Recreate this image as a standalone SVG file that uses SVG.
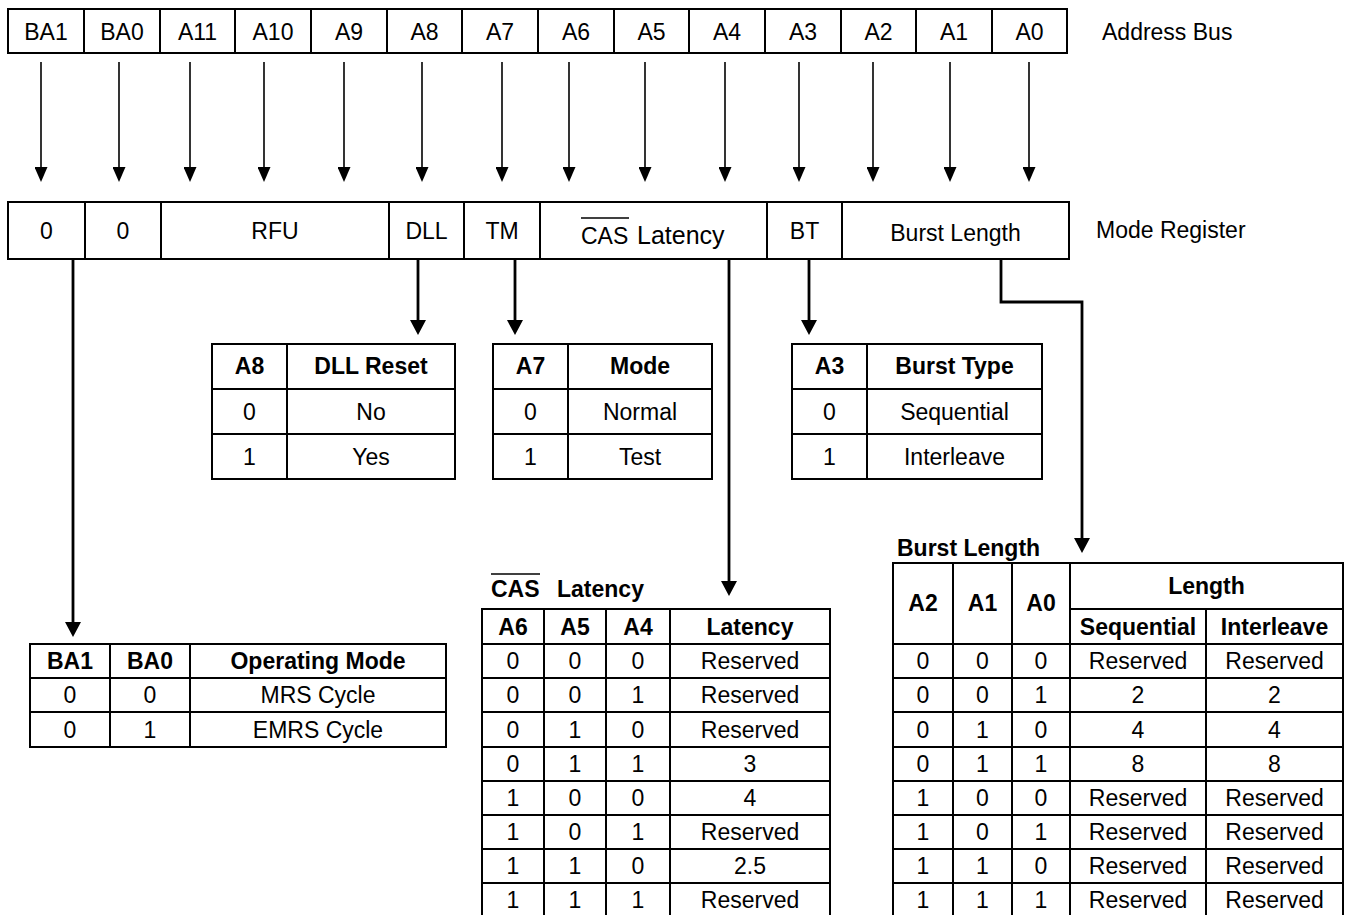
<svg xmlns="http://www.w3.org/2000/svg" width="1345" height="915" viewBox="0 0 1345 915">
<defs>
<marker id="ah" viewBox="0 0 15 13" refX="0" refY="6.5" markerWidth="15" markerHeight="13" markerUnits="userSpaceOnUse" orient="auto"><path d="M0,0 L15,6.5 L0,13 z" fill="#000"/></marker>
<marker id="ahb" viewBox="0 0 15 16" refX="0" refY="8" markerWidth="15" markerHeight="16" markerUnits="userSpaceOnUse" orient="auto"><path d="M0,0 L15,8 L0,16 z" fill="#000"/></marker>
</defs>
<style>
text{font-family:"Liberation Sans",Arial,sans-serif;font-size:23px;fill:#000;text-anchor:middle}
.b{font-weight:bold}
.l{text-anchor:start}
.box{fill:#fff;stroke:#000;stroke-width:2}
.g{stroke:#000;stroke-width:2;fill:none}
.thin{stroke:#000;stroke-width:1.6;fill:none;marker-end:url(#ah)}
.thick{stroke:#000;stroke-width:2.8;fill:none;marker-end:url(#ahb)}
.ov{stroke:#000;stroke-width:1.5}
</style>
<rect width="1345" height="915" fill="#fff"/>

<g id="address-bus">
<rect class="box" x="8" y="9" width="1059" height="44"/>
<path class="g" d="M84,9V53M160,9V53M235,9V53M311,9V53M387,9V53M462,9V53M538,9V53M614,9V53M689,9V53M765,9V53M841,9V53M916,9V53M992,9V53"/>
<text x="46" y="40">BA1</text><text x="122" y="40">BA0</text><text x="197.5" y="40">A11</text><text x="273" y="40">A10</text><text x="349" y="40">A9</text><text x="424.5" y="40">A8</text><text x="500" y="40">A7</text><text x="576" y="40">A6</text><text x="651.5" y="40">A5</text><text x="727" y="40">A4</text><text x="803" y="40">A3</text><text x="878.5" y="40">A2</text><text x="954" y="40">A1</text><text x="1029.5" y="40">A0</text>
<text class="l" x="1102" y="40">Address Bus</text>
</g>

<g id="mode-register">
<rect class="box" x="8" y="202" width="1061" height="57"/>
<path class="g" d="M85,202V259M161,202V259M389,202V259M464,202V259M540,202V259M767,202V259M842,202V259"/>
<text x="46.5" y="239">0</text><text x="123" y="239">0</text><text x="275" y="239">RFU</text><text x="426.5" y="239">DLL</text><text x="502" y="239">TM</text>
<text class="l" x="581" y="244">CAS</text><line class="ov" x1="581" y1="218" x2="629" y2="218"/><text class="l" x="637" y="244" style="font-size:25px">Latency</text>
<text x="804.5" y="239">BT</text><text x="955.5" y="241">Burst Length</text>
<text class="l" x="1096" y="238">Mode Register</text>
</g>

<g id="connectors">
<line class="thin" x1="41" y1="62" x2="41" y2="167"/>
<line class="thin" x1="119" y1="62" x2="119" y2="167"/>
<line class="thin" x1="190" y1="62" x2="190" y2="167"/>
<line class="thin" x1="264" y1="62" x2="264" y2="167"/>
<line class="thin" x1="344" y1="62" x2="344" y2="167"/>
<line class="thin" x1="422" y1="62" x2="422" y2="167"/>
<line class="thin" x1="502" y1="62" x2="502" y2="167"/>
<line class="thin" x1="569" y1="62" x2="569" y2="167"/>
<line class="thin" x1="645" y1="62" x2="645" y2="167"/>
<line class="thin" x1="725" y1="62" x2="725" y2="167"/>
<line class="thin" x1="799" y1="62" x2="799" y2="167"/>
<line class="thin" x1="873" y1="62" x2="873" y2="167"/>
<line class="thin" x1="950" y1="62" x2="950" y2="167"/>
<line class="thin" x1="1029" y1="62" x2="1029" y2="167"/>
<line class="thick" x1="73" y1="259" x2="73" y2="622"/>
<line class="thick" x1="418" y1="259" x2="418" y2="320"/>
<line class="thick" x1="515" y1="259" x2="515" y2="320"/>
<line class="thick" x1="729" y1="259" x2="729" y2="581"/>
<line class="thick" x1="809" y1="259" x2="809" y2="320"/>
<path class="thick" d="M1001,259V302H1082V538"/>
</g>

<g id="dll-table">
<rect class="box" x="212" y="344" width="243" height="135"/>
<path class="g" d="M287,344V479M212,389H455M212,434H455"/>
<text class="b" x="249.5" y="374">A8</text><text class="b" x="371" y="374">DLL Reset</text>
<text x="249.5" y="420">0</text><text x="371" y="420">No</text>
<text x="249.5" y="465">1</text><text x="371" y="465">Yes</text>
</g>

<g id="tm-table">
<rect class="box" x="493" y="344" width="219" height="135"/>
<path class="g" d="M568,344V479M493,389H712M493,434H712"/>
<text class="b" x="530.5" y="374">A7</text><text class="b" x="640" y="374">Mode</text>
<text x="530.5" y="420">0</text><text x="640" y="420">Normal</text>
<text x="530.5" y="465">1</text><text x="640" y="465">Test</text>
</g>

<g id="bt-table">
<rect class="box" x="792" y="344" width="250" height="135"/>
<path class="g" d="M867,344V479M792,389H1042M792,434H1042"/>
<text class="b" x="829.5" y="374">A3</text><text class="b" x="954.5" y="374">Burst Type</text>
<text x="829.5" y="420">0</text><text x="954.5" y="420">Sequential</text>
<text x="829.5" y="465">1</text><text x="954.5" y="465">Interleave</text>
</g>

<g id="opmode-table">
<rect class="box" x="30" y="644" width="416" height="103"/>
<path class="g" d="M110,644V747M190,644V747M30,678H446M30,712H446"/>
<text class="b" x="70" y="669">BA1</text><text class="b" x="150" y="669">BA0</text><text class="b" x="318" y="669">Operating Mode</text>
<text x="70" y="703">0</text><text x="150" y="703">0</text><text x="318" y="703">MRS Cycle</text>
<text x="70" y="738">0</text><text x="150" y="738">1</text><text x="318" y="738">EMRS Cycle</text>
</g>

<g id="cas-table">
<text class="b l" x="491" y="597">CAS</text><line class="ov" x1="491" y1="574" x2="540" y2="574"/><text class="b l" x="557" y="597">Latency</text>
<rect class="box" x="482" y="609" width="348" height="320"/>
<path class="g" d="M544,609V929M606,609V929M670,609V929M482,644H830M482,678H830M482,712H830M482,747H830M482,781H830M482,815H830M482,849H830M482,883H830"/>
<text class="b" x="513" y="635">A6</text><text class="b" x="575" y="635">A5</text><text class="b" x="638" y="635">A4</text><text class="b" x="750" y="635">Latency</text>
<text x="513" y="669">0</text><text x="575" y="669">0</text><text x="638" y="669">0</text><text x="750" y="669">Reserved</text>
<text x="513" y="703">0</text><text x="575" y="703">0</text><text x="638" y="703">1</text><text x="750" y="703">Reserved</text>
<text x="513" y="738">0</text><text x="575" y="738">1</text><text x="638" y="738">0</text><text x="750" y="738">Reserved</text>
<text x="513" y="772">0</text><text x="575" y="772">1</text><text x="638" y="772">1</text><text x="750" y="772">3</text>
<text x="513" y="806">1</text><text x="575" y="806">0</text><text x="638" y="806">0</text><text x="750" y="806">4</text>
<text x="513" y="840">1</text><text x="575" y="840">0</text><text x="638" y="840">1</text><text x="750" y="840">Reserved</text>
<text x="513" y="874">1</text><text x="575" y="874">1</text><text x="638" y="874">0</text><text x="750" y="874">2.5</text>
<text x="513" y="908">1</text><text x="575" y="908">1</text><text x="638" y="908">1</text><text x="750" y="908">Reserved</text>
</g>

<g id="burst-table">
<text class="b l" x="897" y="556">Burst Length</text>
<rect class="box" x="893" y="563" width="450" height="366"/>
<path class="g" d="M953,563V929M1012,563V929M1070,563V929M1206,609V929M1070,609H1343M893,644H1343M893,678H1343M893,712H1343M893,747H1343M893,781H1343M893,815H1343M893,849H1343M893,883H1343"/>
<text class="b" x="923" y="611">A2</text><text class="b" x="982.5" y="611">A1</text><text class="b" x="1041" y="611">A0</text>
<text class="b" x="1206.5" y="594">Length</text><text class="b" x="1138" y="635">Sequential</text><text class="b" x="1274.5" y="635">Interleave</text>
<text x="923" y="669">0</text><text x="982.5" y="669">0</text><text x="1041" y="669">0</text><text x="1138" y="669">Reserved</text><text x="1274.5" y="669">Reserved</text>
<text x="923" y="703">0</text><text x="982.5" y="703">0</text><text x="1041" y="703">1</text><text x="1138" y="703">2</text><text x="1274.5" y="703">2</text>
<text x="923" y="738">0</text><text x="982.5" y="738">1</text><text x="1041" y="738">0</text><text x="1138" y="738">4</text><text x="1274.5" y="738">4</text>
<text x="923" y="772">0</text><text x="982.5" y="772">1</text><text x="1041" y="772">1</text><text x="1138" y="772">8</text><text x="1274.5" y="772">8</text>
<text x="923" y="806">1</text><text x="982.5" y="806">0</text><text x="1041" y="806">0</text><text x="1138" y="806">Reserved</text><text x="1274.5" y="806">Reserved</text>
<text x="923" y="840">1</text><text x="982.5" y="840">0</text><text x="1041" y="840">1</text><text x="1138" y="840">Reserved</text><text x="1274.5" y="840">Reserved</text>
<text x="923" y="874">1</text><text x="982.5" y="874">1</text><text x="1041" y="874">0</text><text x="1138" y="874">Reserved</text><text x="1274.5" y="874">Reserved</text>
<text x="923" y="908">1</text><text x="982.5" y="908">1</text><text x="1041" y="908">1</text><text x="1138" y="908">Reserved</text><text x="1274.5" y="908">Reserved</text>
</g>
</svg>
